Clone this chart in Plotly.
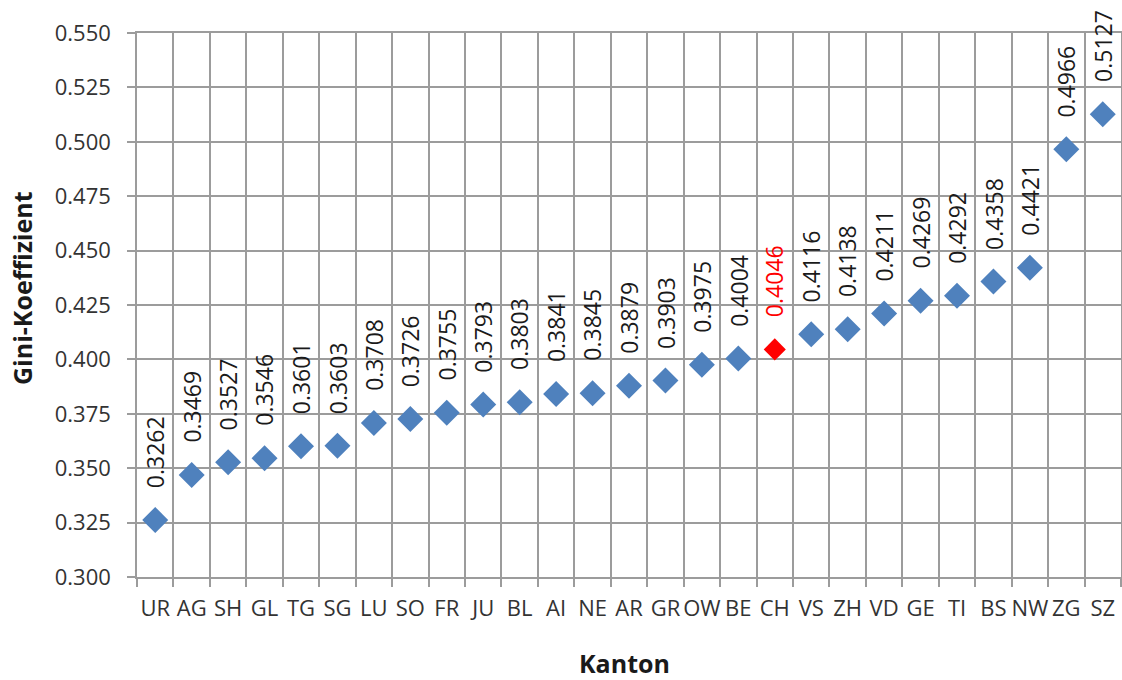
import plotly.graph_objects as go

kantone = ["UR", "AG", "SH", "GL", "TG", "SG", "LU", "SO", "FR", "JU", "BL", "AI", "NE", "AR",
           "GR", "OW", "BE", "CH", "VS", "ZH", "VD", "GE", "TI", "BS", "NW", "ZG", "SZ"]
gini = [0.3262, 0.3469, 0.3527, 0.3546, 0.3601, 0.3603, 0.3708, 0.3726, 0.3755, 0.3793, 0.3803,
        0.3841, 0.3845, 0.3879, 0.3903, 0.3975, 0.4004, 0.4046, 0.4116, 0.4138, 0.4211, 0.4269,
        0.4292, 0.4358, 0.4421, 0.4966, 0.5127]
y_ticks = [0.300, 0.325, 0.350, 0.375, 0.400, 0.425, 0.450, 0.475, 0.500, 0.525, 0.550]

BLUE = "#4F81BD"
RED = "#FF0000"
GRID = "#9c9c9c"
FONT = "Open Sans"

colors = [RED if k == "CH" else BLUE for k in kantone]
sizes = [17 if k == "CH" else 20 for k in kantone]

fig = go.Figure()
fig.add_trace(go.Scatter(
    x=kantone, y=gini, mode="markers",
    marker=dict(symbol="diamond", size=sizes, color=colors, opacity=1, line=dict(width=0)),
    cliponaxis=False, showlegend=False,
))

for k, v in zip(kantone, gini):
    fig.add_annotation(
        x=k, y=v, text=f"{v:.4f}", showarrow=False, textangle=-90,
        xanchor="center", yanchor="bottom", yshift=30,
        font=dict(family=FONT, size=23, color=RED if k == "CH" else "#1a1a1a"),
    )

# axis titles
fig.add_annotation(
    xref="paper", yref="paper", x=0, y=0.5, xshift=-115, yshift=17,
    text="<b>Gini-Koeffizient</b>", textangle=-90, showarrow=False,
    xanchor="center", yanchor="middle",
    font=dict(family=FONT, size=25, color="#1a1a1a"),
)
fig.add_annotation(
    xref="paper", yref="paper", x=0.5, y=0, xshift=-5, yshift=-86,
    text="<b>Kanton</b>", showarrow=False,
    xanchor="center", yanchor="middle",
    font=dict(family=FONT, size=25, color="#1a1a1a"),
)

fig.update_layout(
    width=1122, height=680,
    margin=dict(l=137, r=1, t=33, b=103),
    paper_bgcolor="white", plot_bgcolor="white",
    font=dict(family=FONT, size=22, color="#333333"),
    xaxis=dict(
        type="category", tickson="boundaries", range=[-0.5, len(kantone) - 0.5],
        showgrid=True, gridcolor=GRID, gridwidth=1.5, automargin=False, tickangle=0,
        ticks="outside", ticklen=8, tickcolor=GRID, tickwidth=1.5, ticklabelstandoff=11,
        showline=True, linecolor=GRID, linewidth=1.5, mirror=True,
        tickfont=dict(family=FONT, size=22, color="#333333"),
    ),
    yaxis=dict(
        range=[0.3, 0.55], tickvals=y_ticks, tickformat=".3f", automargin=False,
        showgrid=True, gridcolor=GRID, gridwidth=1.5,
        ticks="outside", ticklen=8, tickcolor=GRID, tickwidth=1.5, ticklabelstandoff=12,
        showline=True, linecolor=GRID, linewidth=1.5, mirror=True, zeroline=False,
        tickfont=dict(family=FONT, size=22, color="#333333"),
    ),
)

fig.write_html("out.html", config={"displayModeBar": False},
               post_script="document.body.style.margin='0';")
